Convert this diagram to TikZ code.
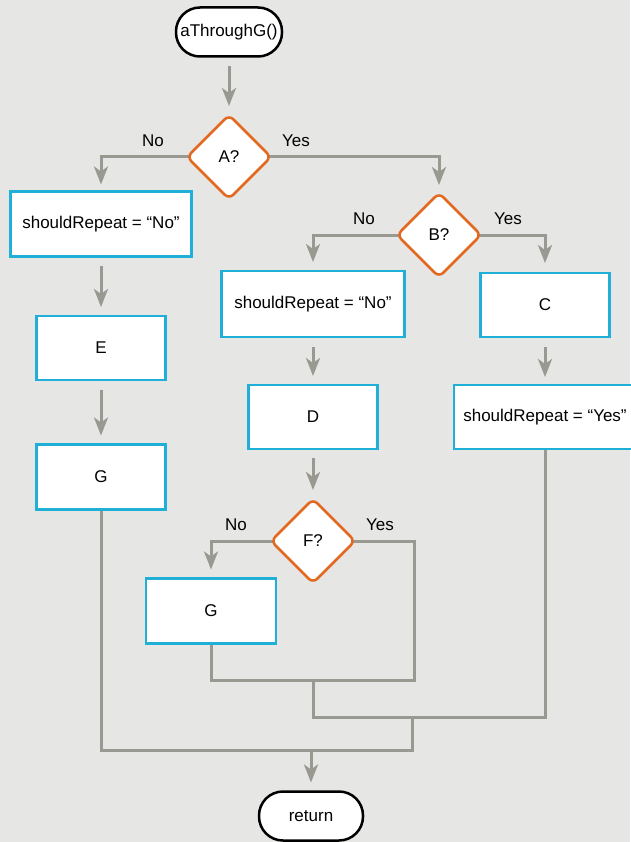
\documentclass[tikz,border=0pt]{standalone}
\usepackage{fontspec}
\setmainfont{Liberation Sans}
\usetikzlibrary{shapes.geometric,arrows.meta}
\pgfdeclarelayer{back}\pgfdeclarelayer{lines}\pgfsetlayers{back,lines,main}
\definecolor{bgc}{HTML}{E6E6E4}
\definecolor{linec}{HTML}{999992}
\definecolor{cyanc}{HTML}{1FAFD7}
\definecolor{orangec}{HTML}{E2691F}
\begin{document}
\begin{tikzpicture}[x=1pt,y=-1pt,
 every node/.style={font=\fontsize{17}{20}\selectfont},
 box/.style={draw=cyanc, line width=2.8pt, fill=white, minimum width=129pt, minimum height=64pt, inner sep=0pt, outer sep=0pt},
 term/.style={draw=black, line width=2.5pt, fill=white, rounded corners=24pt, minimum width=106pt, minimum height=49pt, inner sep=0pt, outer sep=0pt},
 dec/.style={diamond, aspect=1, draw=orangec, line width=2.5pt, fill=white, minimum width=84pt, minimum height=84pt, inner sep=0pt, outer sep=0pt, rounded corners=6pt},
 conn/.style={draw=linec, line width=3pt},
 arr/.style={conn, -{Stealth[length=18pt,width=14pt,inset=5pt]}},
 lab/.style={inner sep=0pt}]
\useasboundingbox (0,0) rectangle (630,842);
\begin{pgfonlayer}{back}
\fill[bgc] (0,0) rectangle (630,842);
\end{pgfonlayer}

% nodes
\node[term] (start) at (229,32) {aThroughG()};
\node[dec] (A) at (229,157) {A?};
\node[box, minimum width=181pt, minimum height=65pt] (noA) at (101,224) {shouldRepeat = “No”};
\node[box] (E) at (101,348) {E};
\node[box, minimum height=65pt] (G1) at (101,477) {G};
\node[dec] (B) at (439,235) {B?};
\node[box, minimum width=183pt, minimum height=66pt] (sr2) at (313,304) {shouldRepeat = “No”};
\node[box] (C) at (545,305) {C};
\node[box, minimum width=182pt] (srY) at (545,417) {shouldRepeat = “Yes”};
\node[box] (D) at (313,417) {D};
\node[dec] (F) at (313,541) {F?};
\node[box, minimum width=130pt, minimum height=65pt] (G2) at (211,611) {G};
\node[term, minimum width=104pt] (ret) at (311,816) {return};

% labels
\node[lab] (lAno) at (153,141) {No};
\node[lab] (lAyes) at (296,141) {Yes};
\node[lab] (lBno) at (364,219) {No};
\node[lab] (lByes) at (508,219) {Yes};
\node[lab] (lFno) at (236,525) {No};
\node[lab] (lFyes) at (380,525) {Yes};

% junction coordinates
\coordinate (jF) at (414,680);
\coordinate (j1) at (313,680);
\coordinate (j2) at (545,717);
\coordinate (j3) at (412,717);
\coordinate (j4) at (412,750);
\coordinate (j5) at (311,750);

\begin{pgfonlayer}{lines}
\draw[arr, shorten <=10pt, shorten >=9pt] (start.south) -- (A.north);
\draw[arr, shorten >=7pt] (A.center) -| (noA.north);
\draw[arr, shorten >=8pt] (A.center) -| (B.north);
\draw[arr, shorten <=9pt, shorten >=9pt] (noA.south) -- (E.north);
\draw[arr, shorten <=10pt, shorten >=9pt] (E.south) -- (G1.north);
\draw[arr, shorten >=9pt] (B.center) -| (sr2.north);
\draw[arr, shorten >=10pt] (B.center) -| (C.north);
\draw[arr, shorten <=10pt, shorten >=9pt] (sr2.south) -- (D.north);
\draw[arr, shorten <=10pt, shorten >=8pt] (C.south) -- (srY.north);
\draw[arr, shorten <=9pt, shorten >=9pt] (D.south) -- (F.north);
\draw[arr, shorten >=9pt] (F.center) -| (G2.north);
\draw[conn] (G2.south) |- (jF) |- (F.center);
\draw[conn] (j1) |- (j2) -- (srY.south);
\draw[conn] (G1.south) |- (j4) -- (j3);
\draw[arr, shorten >=9pt] (j5) -- (ret.north);
\end{pgfonlayer}
\end{tikzpicture}
\end{document}
